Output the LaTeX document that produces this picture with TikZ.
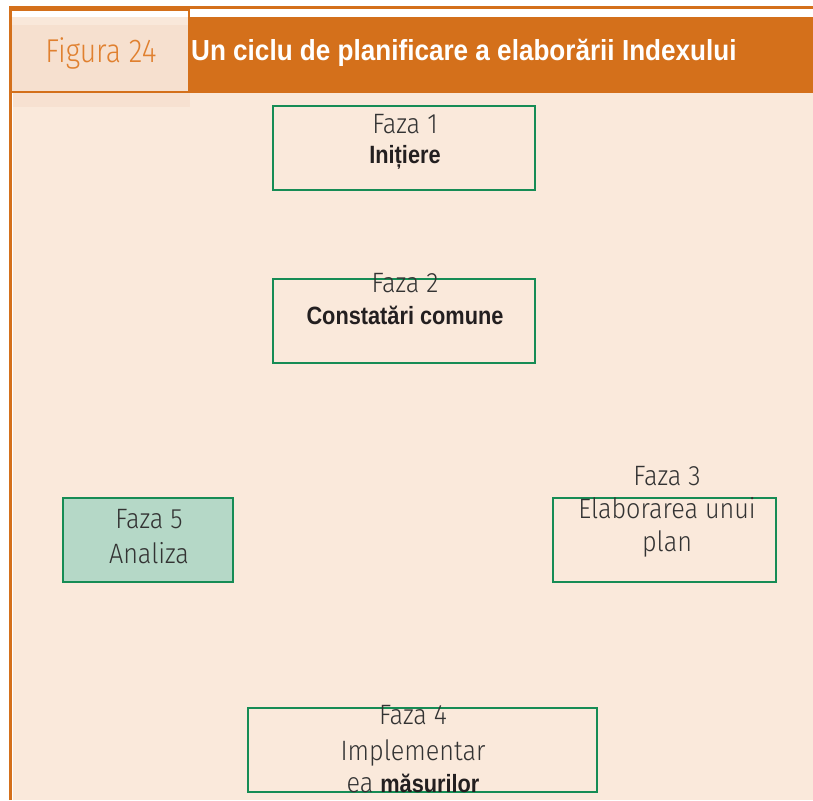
\documentclass[tikz,border=0pt]{standalone}
\usepackage{fontspec}
\setmainfont{Liberation Sans}
\newfontfamily\lightf[FakeStretch=0.9]{Fira Sans Light}
\newfontfamily\figf[FakeStretch=0.86]{Fira Sans Light}
\newfontfamily\condf[FakeStretch=0.87]{Liberation Sans}
\newfontfamily\titlef[FakeStretch=0.9]{Liberation Sans}
\definecolor{hdrorange}{HTML}{D4701B}
\definecolor{cream}{HTML}{FAE9DB}
\definecolor{panel}{HTML}{F6E0CF}
\definecolor{panellight}{HTML}{F9E8DA}
\definecolor{boxgreen}{HTML}{168C55}
\definecolor{boxfill}{HTML}{B5D8C7}
\definecolor{textgray}{HTML}{333333}
\definecolor{textdark}{HTML}{231F20}
\definecolor{figorange}{HTML}{E0802F}
\begin{document}
\begin{tikzpicture}[x=1pt,y=-1pt,
  phase/.style={draw=boxgreen, line width=2.6pt, inner sep=0pt, minimum height=84pt},
  lt/.style={anchor=base, inner sep=0pt, text=textgray, font=\lightf\fontsize{28}{30}\selectfont},
  bt/.style={anchor=base, inner sep=0pt, text=textdark, font=\condf\bfseries\fontsize{25}{30}\selectfont}]
\useasboundingbox (0,0) rectangle (813,800);
% page background
\fill[white] (0,0) rectangle (813,800);
\fill[cream] (13,93) rectangle (813,800);
\fill[panel!85!cream] (13,93) rectangle (190,107);
% header band
\fill[hdrorange] (190,17) rectangle (813,93);
% left panel
\fill[panel] (11,10) rectangle (189,92);
\fill[white] (12,11) rectangle (188,17);
\fill[panellight] (12,17) rectangle (188,25);
\draw[hdrorange, line width=2.2pt] (11,10) rectangle (189,92);
% outer frame
\draw[hdrorange, line width=3pt] (10,800) -- (10,8) -- (813,8);
% header texts
\node[anchor=base, inner sep=0pt, text=figorange, font=\figf\fontsize{33}{34}\selectfont] (fig) at (101,63) {Figura 24};
\node[anchor=base west, inner sep=0pt, text=white, font=\titlef\bfseries\fontsize{29}{34}\selectfont] (title) at (191,60) {Un ciclu de planificare a elaborării Indexului};
% phase boxes
\node[phase, minimum width=262pt] (f1) at (404,148) {};
\node[phase, minimum width=262pt] (f2) at (404,321) {};
\node[phase, minimum width=223pt] (f3) at (664.5,540) {};
\node[phase, minimum width=349pt] (f4) at (422.5,750) {};
\node[phase, minimum width=170pt, fill=boxfill] (f5) at (148,540) {};
% phase texts
\node[lt] (f1a) at (405,133) {Faza 1};
\node[bt] (f1b) at (405,163) {Inițiere};
\node[lt] (f2a) at (405,292) {Faza 2};
\node[bt] (f2b) at (405,324) {Constatări comune};
\node[lt] (f3a) at (667,485) {Faza 3};
\node[lt] (f3b) at (667,518) {Elaborarea unui};
\node[lt] (f3c) at (667,551) {plan};
\node[lt] (f4a) at (413,724) {Faza 4};
\node[lt] (f4b) at (413,760) {Implementar};
\node[anchor=base, inner sep=0pt] (f4c) at (413,792) {\textcolor{textgray}{\lightf\fontsize{28}{30}\selectfont ea }\textcolor{textdark}{\condf\bfseries\fontsize{25}{30}\selectfont măsurilor}};
\node[lt] (f5a) at (149,528) {Faza 5};
\node[lt] (f5b) at (149,563) {Analiza};
\end{tikzpicture}
\end{document}
